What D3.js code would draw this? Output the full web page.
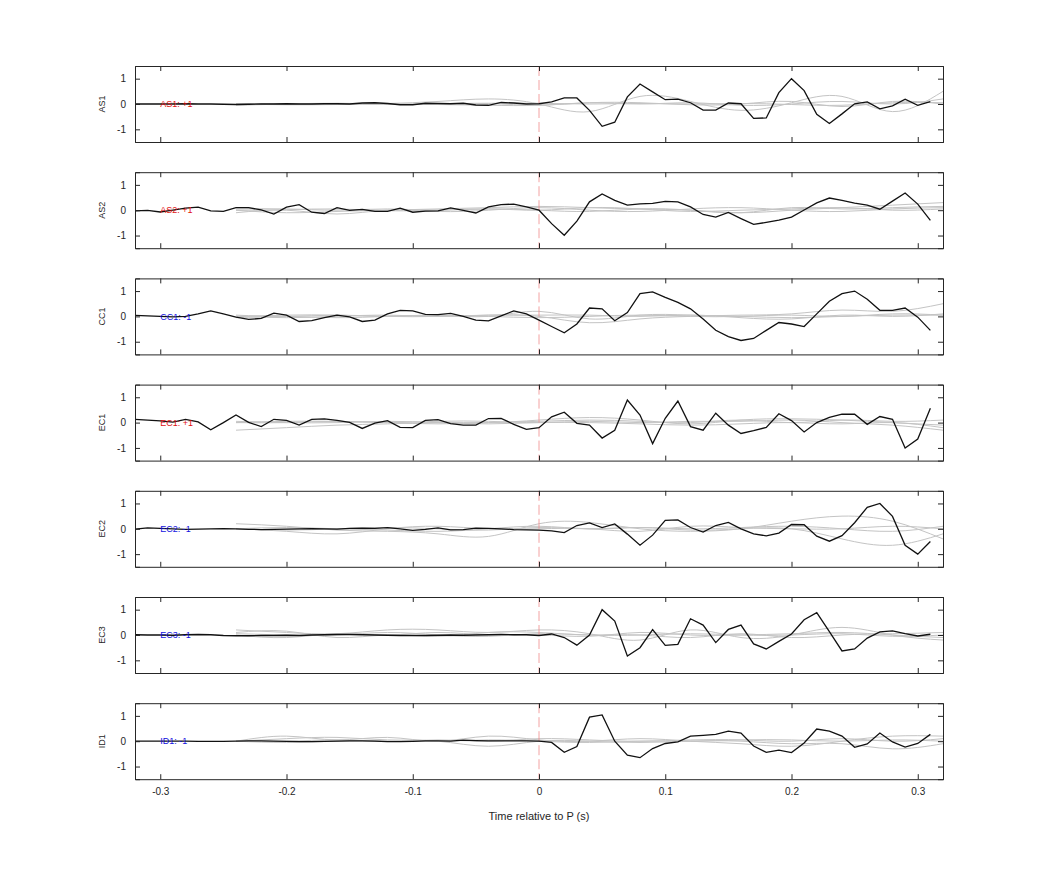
<!DOCTYPE html>
<html><head><meta charset="utf-8">
<script src="https://cdn.jsdelivr.net/npm/d3@7"></script>
<style>body{margin:0;background:#fff}svg{font-family:"Liberation Sans",Arial,sans-serif}</style>
</head><body>
<script>
const channels = ["AS1","AS2","CC1","EC1","EC2","EC3","ID1"];
const polarity = ["+1","+1","-1","+1","-1","-1","-1"];
const xTicks = [-0.3,-0.2,-0.1,0,0.1,0.2,0.3];
const yTicks = [-1,0,1];
const xLabel = "Time relative to P (s)";
// black trace samples at t = -0.32 .. 0.31 step 0.01
const AS1 = [0,0,0,0,0.01,0,0,-0.01,-0.02,-0.01,0,0,0.01,0,0,0.01,0.01,0,0.04,0.05,0.02,-0.03,-0.03,0.03,0.02,0.01,0.03,-0.04,-0.05,0.06,0.04,0,0.01,
 0.08,0.24,0.24,-0.25,-0.88,-0.72,0.28,0.79,0.48,0.17,0.19,0.05,-0.24,-0.24,0.04,0.01,-0.57,-0.55,0.45,1.0,0.53,-0.41,-0.77,-0.39,0.01,0.08,-0.19,-0.07,0.19,-0.05,0.09];
const AS2 = [-0.03,-0.01,-0.07,0,0.08,0.12,-0.03,-0.05,0.1,0.1,0.01,-0.15,0.12,0.22,-0.08,-0.13,0.1,-0.01,0.03,-0.05,-0.05,0.08,-0.08,-0.04,-0.03,0.09,-0.01,-0.11,0.13,0.22,0.24,0.13,0,
 -0.53,-0.99,-0.43,0.33,0.64,0.39,0.2,0.25,0.27,0.35,0.33,0.13,-0.17,-0.27,-0.09,-0.33,-0.56,-0.48,-0.39,-0.27,0.01,0.29,0.48,0.39,0.28,0.2,0.04,0.36,0.68,0.24,-0.4];
const CC1 = [0.04,0.02,0,-0.02,0,0.1,0.22,0.1,-0.03,-0.12,-0.08,0.13,0.05,-0.2,-0.17,-0.05,0.05,-0.02,-0.2,-0.15,0.1,0.24,0.22,0.08,0.07,0.12,0,-0.15,-0.18,0.02,0.22,0.1,-0.15,
 -0.4,-0.65,-0.3,0.33,0.3,-0.17,0.15,0.9,0.97,0.75,0.55,0.3,-0.1,-0.55,-0.8,-0.95,-0.87,-0.55,-0.24,-0.3,-0.4,0.1,0.6,0.9,1.0,0.68,0.24,0.24,0.33,-0.03,-0.55];
const EC1 = [0.13,0.1,0.07,0.02,0.13,0.03,-0.28,0,0.3,0.01,-0.16,0.13,0.09,-0.1,0.13,0.15,0.09,0.01,-0.23,-0.02,0.08,-0.19,-0.2,0.09,0.12,-0.04,-0.1,-0.1,0.16,0.17,-0.07,-0.27,-0.2,
 0.23,0.41,-0.03,-0.1,-0.61,-0.3,0.89,0.3,-0.83,0.17,0.85,-0.16,-0.3,0.37,-0.1,-0.43,-0.32,-0.19,0.35,0.08,-0.37,0,0.21,0.33,0.33,-0.07,0.24,0.13,-1.0,-0.65,0.57];
const EC2 = [-0.01,0.04,0.02,0,-0.02,-0.01,0,0.01,0,-0.02,-0.03,-0.02,-0.01,0,0.01,0,-0.01,0.02,0.03,0.02,0.05,0,-0.06,-0.02,0.04,-0.04,-0.03,0.03,0.02,0,-0.03,-0.04,-0.05,
 -0.08,-0.15,0.13,0.23,0.05,0.19,-0.21,-0.65,-0.25,0.33,0.35,0.05,-0.13,0.13,0.25,0,-0.2,-0.28,-0.17,0.17,0.16,-0.29,-0.49,-0.27,0.24,0.85,1.0,0.49,-0.65,-1.0,-0.5];
const EC3 = [0.01,0,0,-0.01,0.01,0.02,0.01,-0.02,-0.03,-0.03,-0.02,-0.02,-0.01,-0.02,0,0.01,0.02,0.02,0.01,0,-0.01,-0.02,-0.02,-0.02,-0.01,0,-0.01,0,0.01,0.02,0.01,0.01,-0.02,
 0.04,-0.1,-0.4,0,1.0,0.55,-0.83,-0.5,0.21,-0.41,-0.37,0.64,0.39,-0.3,0.22,0.39,-0.35,-0.55,-0.25,0.04,0.6,0.88,0.13,-0.63,-0.55,-0.12,0.12,0.16,0.05,-0.04,0.03];
const ID1 = [0,0,0,0,0,-0.01,-0.01,-0.01,0,0.01,0.01,0,-0.01,-0.02,-0.02,-0.01,0,0.01,0.01,0,-0.02,-0.02,-0.01,0.01,0.01,0,0.04,0.02,0.01,0.01,0.01,0.01,0,
 -0.05,-0.44,-0.21,0.95,1.04,0,-0.55,-0.65,-0.29,-0.09,-0.03,0.2,0.23,0.27,0.4,0.32,-0.19,-0.44,-0.35,-0.45,-0.07,0.48,0.4,0.2,-0.24,-0.11,0.32,-0.03,-0.23,-0.09,0.27];
const traces = [AS1,AS2,CC1,EC1,EC2,EC3,ID1];
// grey smooth traces, control values at t = -0.24 .. 0.32 step 0.04
const greyAS1 = [[0,-0.03,-0.02,0.02,0.1,0.2,0,-0.3,0.3,0.1,-0.25,0.05,0.3,-0.3,0.5],[-0.05,0,0.03,0,-0.02,-0.05,-0.05,0.05,0.05,-0.03,0,0.1,-0.1,0.1,0],[0.02,0.02,0,-0.02,0,0.03,0.03,0,0.02,0,0.02,-0.02,-0.05,0.05,0.05],[-0.02,0,0.02,0,0,0.02,-0.05,0.05,0,0.05,-0.05,0,0.1,0,0.2]];
const greyAS2 = [[0,-0.1,-0.05,0,0.05,0.1,0.15,0.1,0.05,0,-0.1,0,0.1,0.2,0.3],[-0.1,0,-0.15,0,-0.05,0,0.1,0,-0.05,0.05,0.1,0,-0.05,0.05,0.1],[0.05,0.05,0,0.05,0,0.05,0,0.1,0.05,-0.05,0,0.05,0.1,0,0.05],[0,0.02,0.05,-0.02,0,0.05,0,-0.05,0.05,0,-0.1,0.1,0.05,0.1,0.15]];
const greyCC1 = [[0,0.05,0.05,0,0.05,0,0.2,-0.1,0.05,0.05,0,-0.05,0,0.05,0.05],[0,-0.05,0,0.05,0,0.05,0,-0.25,-0.1,0,0.05,0.1,0.25,0.2,0.5],[0.05,0,0.05,0,0,0.05,0.05,0.05,0,0.05,-0.05,-0.1,0.05,0,0.1],[-0.05,0,-0.05,0,0.03,0,-0.05,0,0.05,0,0,0.05,0,0.1,0.05]];
const greyEC1 = [[-0.3,-0.2,-0.1,-0.05,0,0,0.1,0.2,0.1,-0.05,0.1,0.15,0.1,0,-0.1],[0,0.05,0.05,0,-0.05,0,0.05,0.1,0.05,0,0.1,0,0.1,0.05,0.1],[0.05,0,0,0.05,0,-0.05,0,0,-0.05,-0.1,-0.05,0,-0.05,0,-0.2],[0,0,0.05,0,0.05,0.05,0,0.05,0,0.05,0.05,0.1,0,-0.1,-0.3]];
const greyEC2 = [[0.2,0.1,-0.05,-0.1,-0.2,-0.3,0.2,0.25,0,-0.1,0,0.3,0.5,0.3,-0.4],[0,-0.1,-0.2,0,0.1,0,0,0,-0.1,0.1,0.05,0,0,0.1,0],[0,0.05,0,-0.05,-0.1,0,0.1,0,0.05,0,0.05,0.1,0,-0.1,0.1],[0,-0.05,0,0.05,0,-0.05,0.05,0,0.05,-0.05,0,0,-0.4,-0.65,-0.2]];
const greyEC3 = [[0.2,0.1,0.05,0.2,0.2,0.1,0.2,0.05,-0.2,0.2,-0.1,0,0.3,0,-0.2],[0.1,0.15,-0.1,0,-0.05,0.1,0.1,0,0,-0.1,0.05,-0.1,0,0.05,0.1],[0,-0.1,0.05,0,0.1,0,0,-0.05,0.1,0,0,0.05,0.1,0,-0.1],[0.05,0,0,0.1,0,-0.05,0.05,0,0,0.05,0,0,0.05,-0.05,0]];
const greyID1 = [[0,0.2,0.05,0.15,0,0.2,0.05,0,0.1,0,-0.1,-0.2,0,0.2,0.2],[0,0.1,0.15,0.05,0,-0.2,0,0,-0.05,0,0,-0.1,-0.1,-0.3,-0.1],[0,0,0.05,0,0.05,0,0.1,0.05,0,0.05,0.05,0,0.1,0,0.1],[0,-0.05,0,0,0,0.05,0,-0.05,0,0,0.05,0.05,0,0.05,0]];
const greys = [greyAS1,greyAS2,greyCC1,greyEC1,greyEC2,greyEC3,greyID1];

const W=1042,H=875, L=135, R=943, panelTop=66, panelH=76, step=106.2;
const svg=d3.select("body").append("svg").attr("width",W).attr("height",H);
const x=d3.scaleLinear().domain([-0.32,0.32]).range([L,R]);
const tSamples=d3.range(64).map(i=>-0.32+i*0.01);
const tGrey=d3.range(15).map(i=>-0.24+i*0.04);
svg.append("defs").append("clipPath").attr("id","clipx").append("rect").attr("x",L).attr("y",0).attr("width",R-L).attr("height",H);
const fmtX=v=>(v===0?"0":d3.format(".1f")(v)).replace("\u2212","-");
const fmtY=v=>String(v);

channels.forEach((ch,k)=>{
  const top=panelTop+k*step;
  const y=d3.scaleLinear().domain([-1.5,1.5]).range([top+panelH,top]);
  const g=svg.append("g");
  const cg=g.append("g").attr("clip-path","url(#clipx)");
  const gl=d3.line().x(d=>x(d[0])).y(d=>y(d[1])).curve(d3.curveNatural);
  greys[k].forEach(s=>{
    cg.append("path").attr("d",gl(tGrey.map((t,i)=>[t,s[i]]))).attr("fill","none").attr("stroke","#c4c4c4").attr("stroke-width",1);
  });
  cg.append("line").attr("x1",x(0)).attr("x2",x(0)).attr("y1",top).attr("y2",top+panelH)
    .attr("stroke","#f08a8a").attr("stroke-width",0.8).attr("stroke-dasharray","10,4");
  const bl=d3.line().x(d=>x(d[0])).y(d=>y(d[1]));
  cg.append("path").attr("d",bl(tSamples.map((t,i)=>[t,traces[k][i]]))).attr("fill","none").attr("stroke","#111").attr("stroke-width",1.3);
  g.append("text").attr("x",x(-0.3)).attr("y",y(0)).attr("dy","0.35em").attr("font-size",9)
    .attr("fill",polarity[k]==="+1"?"#e01010":"#1010e0").text(ch+": "+polarity[k]);
  const xb=d3.axisBottom(x).tickValues(xTicks).tickSize(-5).tickFormat(k===6?fmtX:"").tickPadding(9);
  const xt=d3.axisTop(x).tickValues(xTicks).tickSize(-5).tickFormat("");
  const yl=d3.axisLeft(y).tickValues(yTicks).tickSize(-5).tickFormat(fmtY).tickPadding(9);
  const yr=d3.axisRight(y).tickValues(yTicks).tickSize(-5).tickFormat("");
  [[xb,`translate(0,${top+panelH})`],[xt,`translate(0,${top})`],[yl,`translate(${L},0)`],[yr,`translate(${R},0)`]].forEach(([a,tr])=>{
    const ax=g.append("g").attr("transform",tr).call(a);
    ax.select(".domain").attr("stroke","#262626");
    ax.selectAll(".tick line").attr("stroke","#262626");
    ax.selectAll("text").attr("fill","#262626").attr("font-size",10).attr("font-family","Liberation Sans, Arial, sans-serif");
  });
  g.append("text").attr("transform",`translate(105,${y(0)}) rotate(-90)`).attr("text-anchor","middle")
    .attr("font-size",9).attr("fill","#262626").text(ch);
});
svg.append("text").attr("x",x(0)).attr("y",820).attr("text-anchor","middle").attr("font-size",11).attr("fill","#262626").text(xLabel);
</script>
</body></html>
